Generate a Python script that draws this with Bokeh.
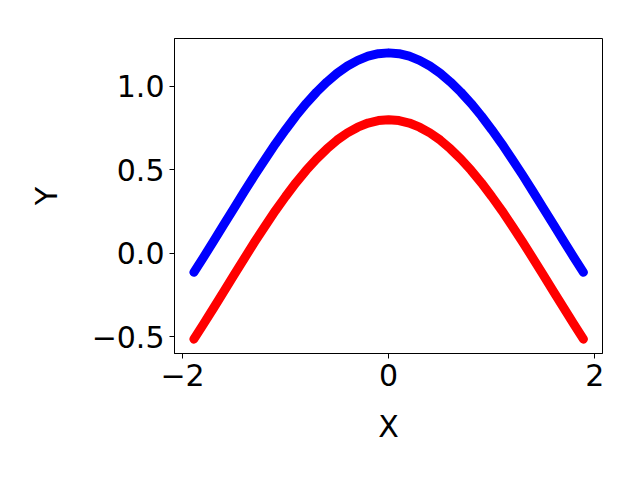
from bokeh.plotting import figure
from bokeh.models import FixedTicker, CustomJSTickFormatter, Range1d
from bokeh.embed import file_html
from bokeh.resources import INLINE

half_x = [1.89, 1.8, 1.7, 1.6, 1.5, 1.4, 1.3, 1.2, 1.1, 1.0, 0.9, 0.8, 0.7,
          0.6, 0.5, 0.4, 0.3, 0.2, 0.1]
x_vals = [-v for v in half_x] + [0.0] + half_x[::-1]

blue_half = [-0.114, -0.027, 0.071, 0.171, 0.271, 0.370, 0.468, 0.562, 0.654,
             0.740, 0.822, 0.897, 0.965, 1.025, 1.078, 1.121, 1.155, 1.180, 1.195]
red_half = [-0.514, -0.427, -0.329, -0.229, -0.129, -0.030, 0.068, 0.162, 0.254,
            0.340, 0.422, 0.497, 0.565, 0.625, 0.678, 0.721, 0.755, 0.780, 0.795]
blue_peak = 1.200
red_peak = 0.800
blue_y = blue_half + [blue_peak] + blue_half[::-1]
red_y = red_half + [red_peak] + red_half[::-1]

x_ticks = [-2, 0, 2]
y_ticks = [-0.5, 0.0, 0.5, 1.0]
x_label = "X"
y_label = "Y"

p = figure(frame_width=428, frame_height=315,
           min_border_left=174, min_border_right=30,
           min_border_top=38, min_border_bottom=119,
           x_range=Range1d(-2.078, 2.075), y_range=Range1d(-0.6, 1.286),
           output_backend="svg", toolbar_location=None,
           background_fill_color="white", border_fill_color="white")

p.line(x_vals, blue_y, line_color="#0000ff", line_width=9, line_cap="round", line_join="round")
p.line(x_vals, red_y, line_color="#ff0000", line_width=9, line_cap="round", line_join="round")

p.xgrid.visible = False
p.ygrid.visible = False
p.outline_line_color = "black"
p.outline_line_width = 1
p.outline_line_alpha = 1

p.xaxis.ticker = FixedTicker(ticks=x_ticks)
p.yaxis.ticker = FixedTicker(ticks=y_ticks)
p.xaxis.formatter = CustomJSTickFormatter(code="return tick < 0 ? '\u2212' + Math.abs(tick).toFixed(0) : tick.toFixed(0);")
p.yaxis.formatter = CustomJSTickFormatter(code="return tick < 0 ? '\u2212' + Math.abs(tick).toFixed(1) : tick.toFixed(1);")

for ax in (p.xaxis, p.yaxis):
    ax.major_label_text_font = "DejaVu Sans"
    ax.major_label_text_font_size = "30px"
    ax.major_label_text_color = "black"
    ax.axis_label_text_font = "DejaVu Sans"
    ax.axis_label_text_font_size = "30px"
    ax.axis_label_text_font_style = "normal"
    ax.axis_label_text_color = "black"
    ax.major_tick_out = 5
    ax.major_tick_in = 0
    ax.minor_tick_out = 0
    ax.minor_tick_in = 0
    ax.major_tick_line_color = "black"
    ax.axis_line_color = "black"
    ax.major_label_standoff = 5

p.xaxis.axis_label = x_label
p.yaxis.axis_label = y_label
p.xaxis.axis_label_standoff = 20
p.yaxis.axis_label_standoff = 25

open("out.html", "w").write(file_html(p, INLINE))
